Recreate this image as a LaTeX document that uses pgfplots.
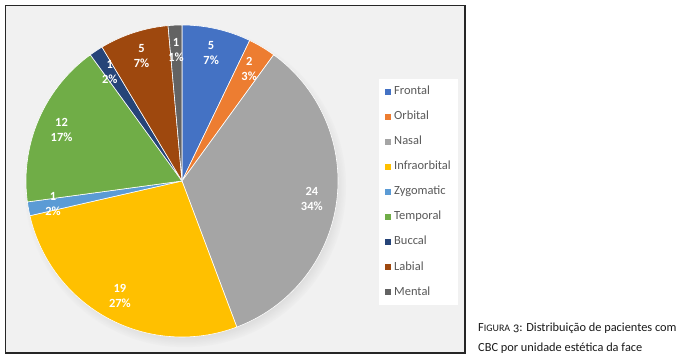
\documentclass[border=0pt]{standalone}
\usepackage{pgfplots}
\pgfplotsset{compat=1.18}
\usepackage{pgfplotstable}
\usetikzlibrary{shadows}
\usepackage{fontspec}
\setmainfont{Carlito}
\definecolor{c0}{HTML}{4472C4}
\definecolor{c1}{HTML}{ED7D31}
\definecolor{c2}{HTML}{A5A5A5}
\definecolor{c3}{HTML}{FFC000}
\definecolor{c4}{HTML}{5B9BD5}
\definecolor{c5}{HTML}{70AD47}
\definecolor{c6}{HTML}{264478}
\definecolor{c7}{HTML}{9E480E}
\definecolor{c8}{HTML}{636363}
\definecolor{legtext}{HTML}{595959}
\definecolor{bgc}{HTML}{F1F1F1}

\pgfplotstableread{
name value pct
Frontal 5 7
Orbital 2 3
Nasal 24 34
Infraorbital 19 27
Zygomatic 1 2
Temporal 12 17
Buccal 1 2
Labial 5 7
Mental 1 1
}\piedata

\tikzset{labelstyle/.style={text=white, font=\bfseries\fontsize{12.5}{15}\selectfont, align=center, inner sep=0pt}}

\begin{document}
\begin{tikzpicture}
\useasboundingbox (0,0) rectangle (682bp,362bp);
\fill[bgc] (5bp,9bp) rectangle (465bp,357bp);
\fill[bgc, circular drop shadow={shadow xshift=3bp, shadow yshift=-5bp, shadow scale=1.04, opacity=0.35}] (182bp,181bp) circle (155bp);
\begin{axis}[
  at={(0,0)}, anchor=south west,
  scale only axis, width=682bp, height=362bp,
  xmin=0, xmax=682, ymin=0, ymax=362,
  hide axis, clip=false,
  legend cell align=left,
  legend image code/.code={\fill[draw=none] (0bp,-3bp) rectangle (6bp,3bp);},
  legend style={at={(axis cs:379,283.5)}, anchor=north west, draw=none, fill=white,
    font=\fontsize{12.5}{15}\selectfont, text=legtext, inner sep=6bp,
    row sep=11.05bp, column sep=2bp,
    nodes={inner sep=1bp, text height=9bp, text depth=3bp}},
]
\def\total{0}
\pgfplotsforeachungrouped \i in {0,...,8}{%
  \pgfplotstablegetelem{\i}{value}\of\piedata
  \pgfmathsetmacro\total{\total+\pgfplotsretval}%
}
\pgfmathsetmacro\degper{360/\total}
\def\cum{0}
\def\labels{}
\pgfplotsforeachungrouped \i in {0,...,8}{%
  \pgfplotstablegetelem{\i}{value}\of\piedata \let\v\pgfplotsretval
  \pgfplotstablegetelem{\i}{pct}\of\piedata \let\p\pgfplotsretval
  \pgfplotstablegetelem{\i}{name}\of\piedata \let\nm\pgfplotsretval
  \pgfmathsetmacro\a{90-\degper*\cum}%
  \pgfmathsetmacro\b{90-\degper*(\cum+\v)}%
  \pgfmathsetmacro\m{(\a+\b)/2}%
  \pgfmathsetmacro\lx{182+131*cos(\m)}%
  \pgfmathsetmacro\ly{181+131*sin(\m)}%
  \edef\cmd{%
    \noexpand\addplot[fill=c\i, draw=white, line width=0.6pt, domain=\b:\a, samples=90, variable=\noexpand\t]
      ({182+156*cos(\noexpand\t)},{181+156*sin(\noexpand\t)}) -- (axis cs:182,181) -- cycle;
    \noexpand\addlegendentry{\nm}
  }\cmd
  \edef\labels{\unexpanded\expandafter{\labels}%
    \noexpand\node[labelstyle] at (axis cs:\lx,\ly) {\v\noexpand\\\p\noexpand\%};}%
  \pgfmathsetmacro\cum{\cum+\v}%
}
\labels
\end{axis}
\draw[line width=1.2bp, black!85] (5.5bp,9bp) rectangle (465bp,356.5bp);
\node[anchor=base west, inner sep=0pt, text=black!90, font=\fontsize{12.4}{15}\selectfont] at (478bp,31bp)
  {F{\fontsize{10}{12}\selectfont IGURA} {\addfontfeatures{Numbers=OldStyle}3}: Distribuição de pacientes com};
\node[anchor=base west, inner sep=0pt, text=black!90, font=\fontsize{12.4}{15}\selectfont] at (478bp,11bp)
  {CBC por unidade estética da face};
\end{tikzpicture}
\end{document}
